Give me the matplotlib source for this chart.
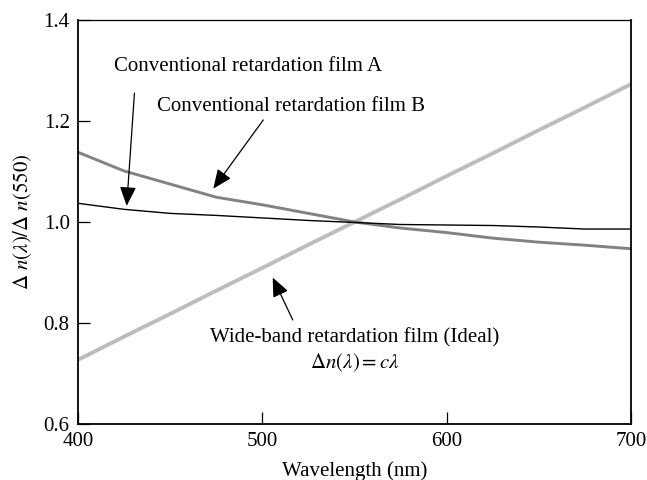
import matplotlib
matplotlib.use("Agg")
import matplotlib.pyplot as plt

plt.rcParams["font.family"] = ["Liberation Serif", "DejaVu Serif"]
plt.rcParams["mathtext.fontset"] = "stix"

# Wavelength grid (nm)
wavelength = [400, 425, 450, 475, 500, 525, 550, 575, 600, 625, 650, 675, 700]

# Normalised birefringence dispersion, Δn(λ)/Δn(550)
film_a = [1.037, 1.025, 1.017, 1.013, 1.008, 1.003, 0.999, 0.995, 0.994, 0.993, 0.990, 0.986, 0.986]
film_b = [1.138, 1.101, 1.075, 1.049, 1.034, 1.017, 1.000, 0.988, 0.979, 0.968, 0.960, 0.954, 0.947]
wide_band = [0.727, 0.773, 0.818, 0.864, 0.909, 0.955, 1.000, 1.045, 1.091, 1.136, 1.182, 1.227, 1.273]

x_ticks = [400, 500, 600, 700]
y_ticks = [0.6, 0.8, 1.0, 1.2, 1.4]

fig = plt.figure(figsize=(6.47, 4.8), dpi=100)
ax = fig.add_axes([0.1206, 0.1167, 0.8547, 0.8417])

ax.plot(wavelength, wide_band, color="#bdbdbd", lw=2.8, solid_capstyle="butt")
ax.plot(wavelength, film_b, color="#828282", lw=2.1)
ax.plot(wavelength, film_a, color="black", lw=1.0)

ax.set_xlim(400, 700)
ax.set_ylim(0.6, 1.4)
ax.set_xticks(x_ticks)
ax.set_yticks(y_ticks)
ax.set_yticklabels([f"{v:.1f}" for v in y_ticks])
ax.tick_params(direction="in", length=8.5, width=0.9, labelsize=15, pad=6)
for side in ["left", "bottom", "right"]:
    ax.spines[side].set_linewidth(1.3)
ax.spines["top"].set_linewidth(0.9)

ax.set_xlabel("Wavelength (nm)", fontsize=15, labelpad=7)
ax.set_ylabel(r"$\Delta\ n(\lambda)/\Delta\ n(550)$", fontsize=15, labelpad=7)

arrow = dict(arrowstyle="-|>,head_length=0.65,head_width=0.28", color="black",
             lw=0.9, mutation_scale=18, shrinkA=0, shrinkB=0)

ax.text(492.5, 1.307, "Conventional retardation film A", fontsize=15,
        ha="center", va="center")
ax.annotate("", xy=(426.4, 1.032), xytext=(430.6, 1.255), arrowprops=arrow)

ax.text(515.6, 1.228, "Conventional retardation film B", fontsize=15,
        ha="center", va="center")
ax.annotate("", xy=(473.4, 1.066), xytext=(500.5, 1.202), arrowprops=arrow)

ax.text(550.3, 0.770, "Wide-band retardation film (Ideal)", fontsize=15,
        ha="center", va="center")
ax.text(550.3, 0.721, r"$\Delta n(\lambda) = c\lambda$", fontsize=15,
        ha="center", va="center")
ax.annotate("", xy=(505.6, 0.890), xytext=(516.5, 0.806), arrowprops=arrow)

fig.savefig("out.png", dpi=100)
